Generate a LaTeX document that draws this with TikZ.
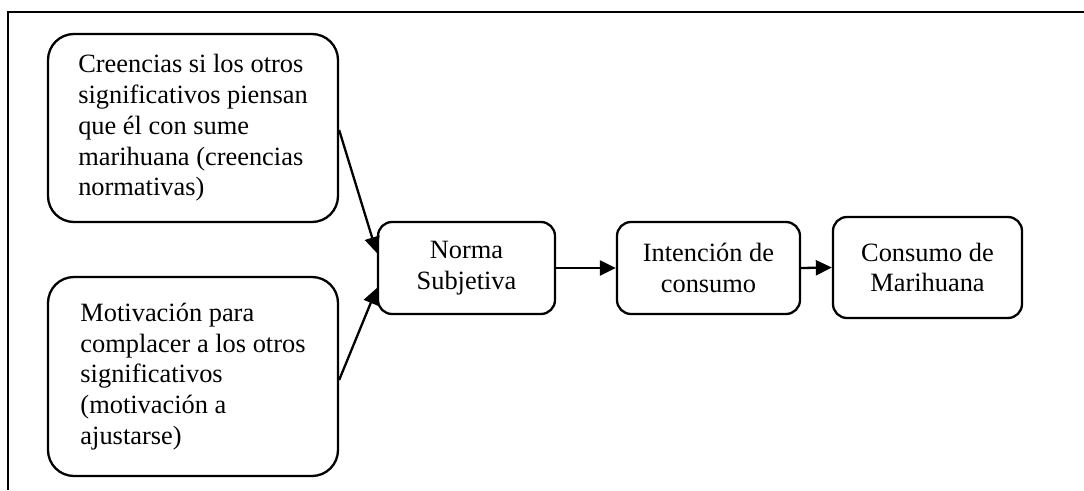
\documentclass[tikz,border=0pt]{standalone}
\usepackage{fontspec}
\setmainfont{Liberation Serif}
\usetikzlibrary{arrows.meta}
\begin{document}
\begin{tikzpicture}[x=1pt,y=-1pt,
  bigbox/.style={draw,line width=2.3pt,rounded corners=26pt,minimum width=290pt,
    inner sep=0pt,align=left,
    font=\fontsize{26.4}{30.7}\selectfont},
  smallbox/.style={draw,line width=2.3pt,rounded corners=14pt,align=center,inner sep=0pt,
    font=\fontsize{26.4}{30.7}\selectfont},
  arr/.style={line width=2.3pt,-{Triangle[length=16pt,width=15pt]}}]
\useasboundingbox (0,0) rectangle (1084,490);
\draw[line width=2.3pt] (1084,12) -- (8,12) -- (8,490);
\node[bigbox,minimum height=188pt] (b1) at (193,128)
  {Creencias si los otros\\significativos piensan\\que él con sume\\marihuana (creencias\\normativas)};
\node[bigbox,minimum height=199pt] (b2) at (193,376.5)
  {Motivación para\\complacer a los otros\\significativos\\(motivación a\\ajustarse)};
\node[smallbox,minimum width=177pt,minimum height=92pt] (n) at (466.5,268) {Norma\\Subjetiva};
\node[smallbox,minimum width=183pt,minimum height=92pt] (i) at (708.5,268) {Intención de\\consumo};
\node[smallbox,minimum width=189pt,minimum height=101pt] (c) at (927.5,267.5) {Consumo de\\Marihuana};
\draw[arr] ([yshift=-2pt]b1.east) -- ([yshift=15pt]n.west);
\draw[arr] ([yshift=-3.5pt]b2.east) -- ([yshift=-20pt]n.west);
\draw[arr] (n.east) -- (i.west);
\draw[arr] (i.east) -- (c.west);
\end{tikzpicture}
\end{document}
